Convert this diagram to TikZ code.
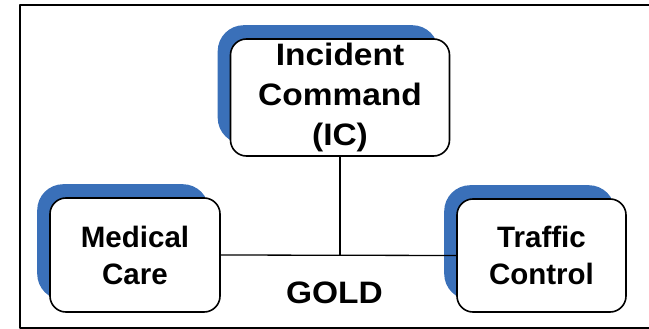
\documentclass[tikz,border=0pt]{standalone}
\usepackage{fontspec}
\setmainfont{Liberation Sans}
\newfontfamily\widesans[FakeStretch=1.08]{Liberation Sans}
\usetikzlibrary{backgrounds}
\definecolor{shadowblue}{RGB}{58,112,185}
\tikzset{
  unit/.style={draw, line width=1.6pt, fill=white, rounded corners=16pt, align=center, inner sep=0pt},
  bigfont/.style={font=\widesans\bfseries\fontsize{31}{40}\selectfont},
  smallfont/.style={font=\bfseries\fontsize{29.5}{37}\selectfont}
}
\begin{document}
\begin{tikzpicture}[x=1pt, y=-1pt, line join=round]
	\useasboundingbox (0,0) rectangle (649,329);
	\draw[line width=2.5pt] (20,5) rectangle (670,328);
	% boxes
	\node[unit, bigfont, minimum width=219pt, minimum height=117pt] (ic) at (340,97.5) {Incident\\Command\\(IC)};
	\node[unit, smallfont, minimum width=170pt, minimum height=114pt] (med) at (135,255) {Medical\\Care};
	\node[unit, smallfont, minimum width=169pt, minimum height=113pt] (traffic) at (541.5,255.5) {Traffic\\Control};
	\begin{scope}[on background layer]
	\foreach \n in {ic,med,traffic}
	\fill[shadowblue, rounded corners=26pt] ([shift={(-12,-13)}]\n.north west) rectangle ([shift={(-12,-13)}]\n.south east);
	\end{scope}
	% links
	\draw[line width=1.3pt] (med.east) -- (traffic.west);
	\draw[line width=1.3pt] (ic.south) -- (ic.south |- med.east);
	\node[bigfont] (gold) at (334.5,293) {GOLD};
\end{tikzpicture}
\end{document}
